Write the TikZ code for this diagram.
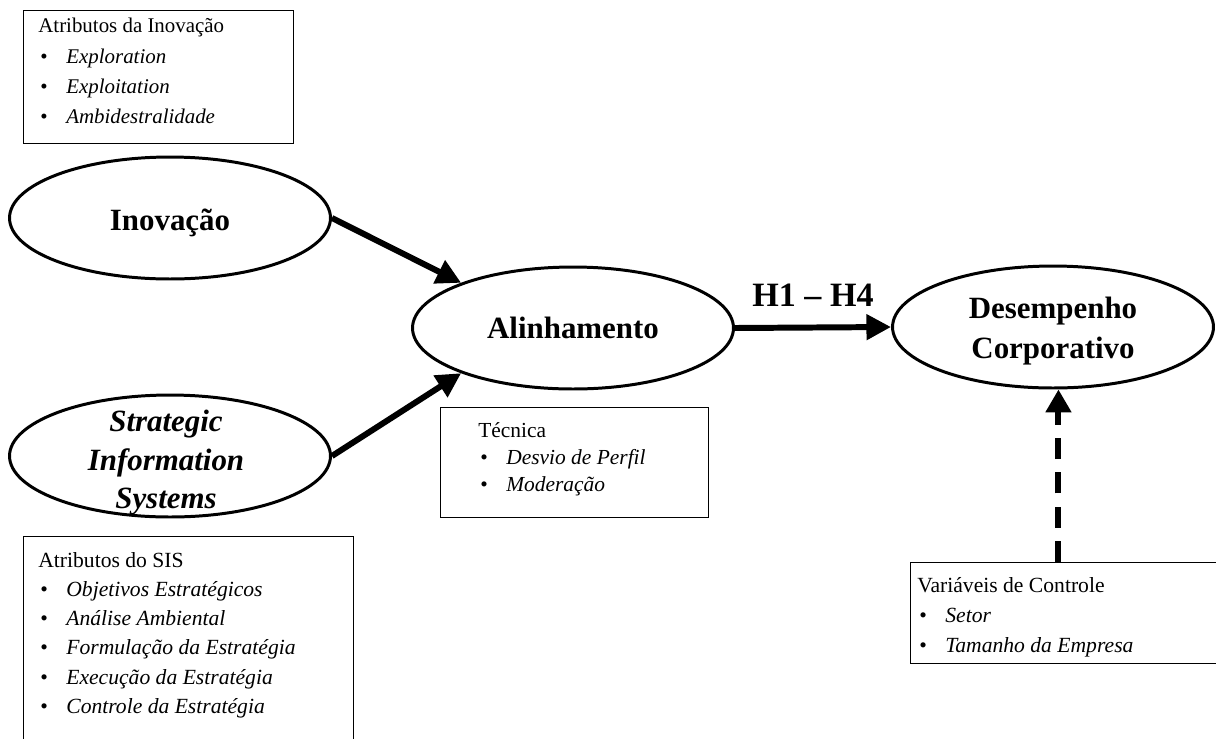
\documentclass[tikz,border=0pt]{standalone}
\usepackage{fontspec}
\setmainfont{Liberation Serif}
\usetikzlibrary{shapes.geometric,arrows.meta}
\newcommand{\itm}[1]{\makebox[0.56cm][l]{\hspace{0.04cm}\textbullet}\textit{#1}}

\begin{document}
\begin{tikzpicture}[x=0.02cm, y=-0.02cm,
  construct/.style={draw, ellipse, line width=1.7pt, minimum width=6.42cm, minimum height=2.44cm, inner sep=0pt, align=center, font=\fontsize{17.6}{22.5}\selectfont\bfseries},
  attrbox/.style={draw, rectangle, line width=0.75pt, anchor=north west, inner sep=0pt},
  attrtext/.style={anchor=north west, inner sep=0pt, align=left},
  effect/.style={line width=3.4pt, -{Triangle[length=14pt,width=14pt]}},
  control/.style={line width=3.4pt, dash pattern=on 12pt off 7.5pt, -{Triangle[length=13pt,width=14pt]}}]
\useasboundingbox (0,0) rectangle (1216,738);
% constructos
\node[construct, text height=0.61cm] (inov) at (170,218) {Inovação};
\node[construct] (sis) at (170,456) {};
\node[inner sep=0pt, align=center, font=\fontsize{17.6}{21.9}\selectfont\bfseries\itshape] (sistxt) at ([shift={(-4,7)}]sis.center) {Strategic\\ Information\\ Systems};
\node[construct] (alin) at (573,328) {Alinhamento};
\node[construct] (des) at (1053,327) {\rule{0pt}{0.59cm}Desempenho\\ Corporativo};
% atributos
\node[attrbox, minimum width=5.4cm, minimum height=2.66cm] (inovbox) at (23,10) {};
\node[attrtext, font=\fontsize{11.9}{17.2}\selectfont] (inovtxt) at ([shift={(15,8)}]inovbox.north west) {Atributos da Inovação\\ \itm{Exploration}\\ \itm{Exploitation}\\ \itm{Ambidestralidade}};
\node[attrbox, minimum width=6.6cm, minimum height=4.4cm] (sisbox) at (23,536) {};
\node[attrtext, font=\fontsize{12.3}{16.6}\selectfont] (sisattr) at ([shift={(15,16)}]sisbox.north west) {Atributos do SIS\\ \itm{Objetivos Estratégicos}\\ \itm{Análise Ambiental}\\ \itm{Formulação da Estratégia}\\ \itm{Execução da Estratégia}\\ \itm{Controle da Estratégia}};
\node[attrbox, minimum width=5.36cm, minimum height=2.2cm] (tecbox) at (440,407) {};
\node[attrtext, font=\fontsize{12.2}{15.4}\selectfont] (tectxt) at ([shift={(38,15)}]tecbox.north west) {Técnica\\ \itm{Desvio de Perfil}\\ \itm{Moderação}};
\node[attrbox, minimum width=6.4cm, minimum height=2.02cm] (ctrlbox) at (910,562) {};
\node[attrtext, font=\fontsize{12.3}{17.1}\selectfont] (ctrltxt) at ([shift={(7,15)}]ctrlbox.north west) {Variáveis de Controle\\ \itm{Setor}\\ \itm{Tamanho da Empresa}};
% relacoes
\draw[effect] (inov.east) -- (alin.158);
\draw[effect] (sis.east) -- (alin.202);
\draw[effect] (alin.east) -- node[above=10.5pt, inner sep=0pt, font=\fontsize{19.4}{23}\selectfont\bfseries] (hyp) {H1 – H4} (des.west);
\draw[control] (ctrlbox.north -| des.275) -- (des.275);
\end{tikzpicture}
\end{document}
